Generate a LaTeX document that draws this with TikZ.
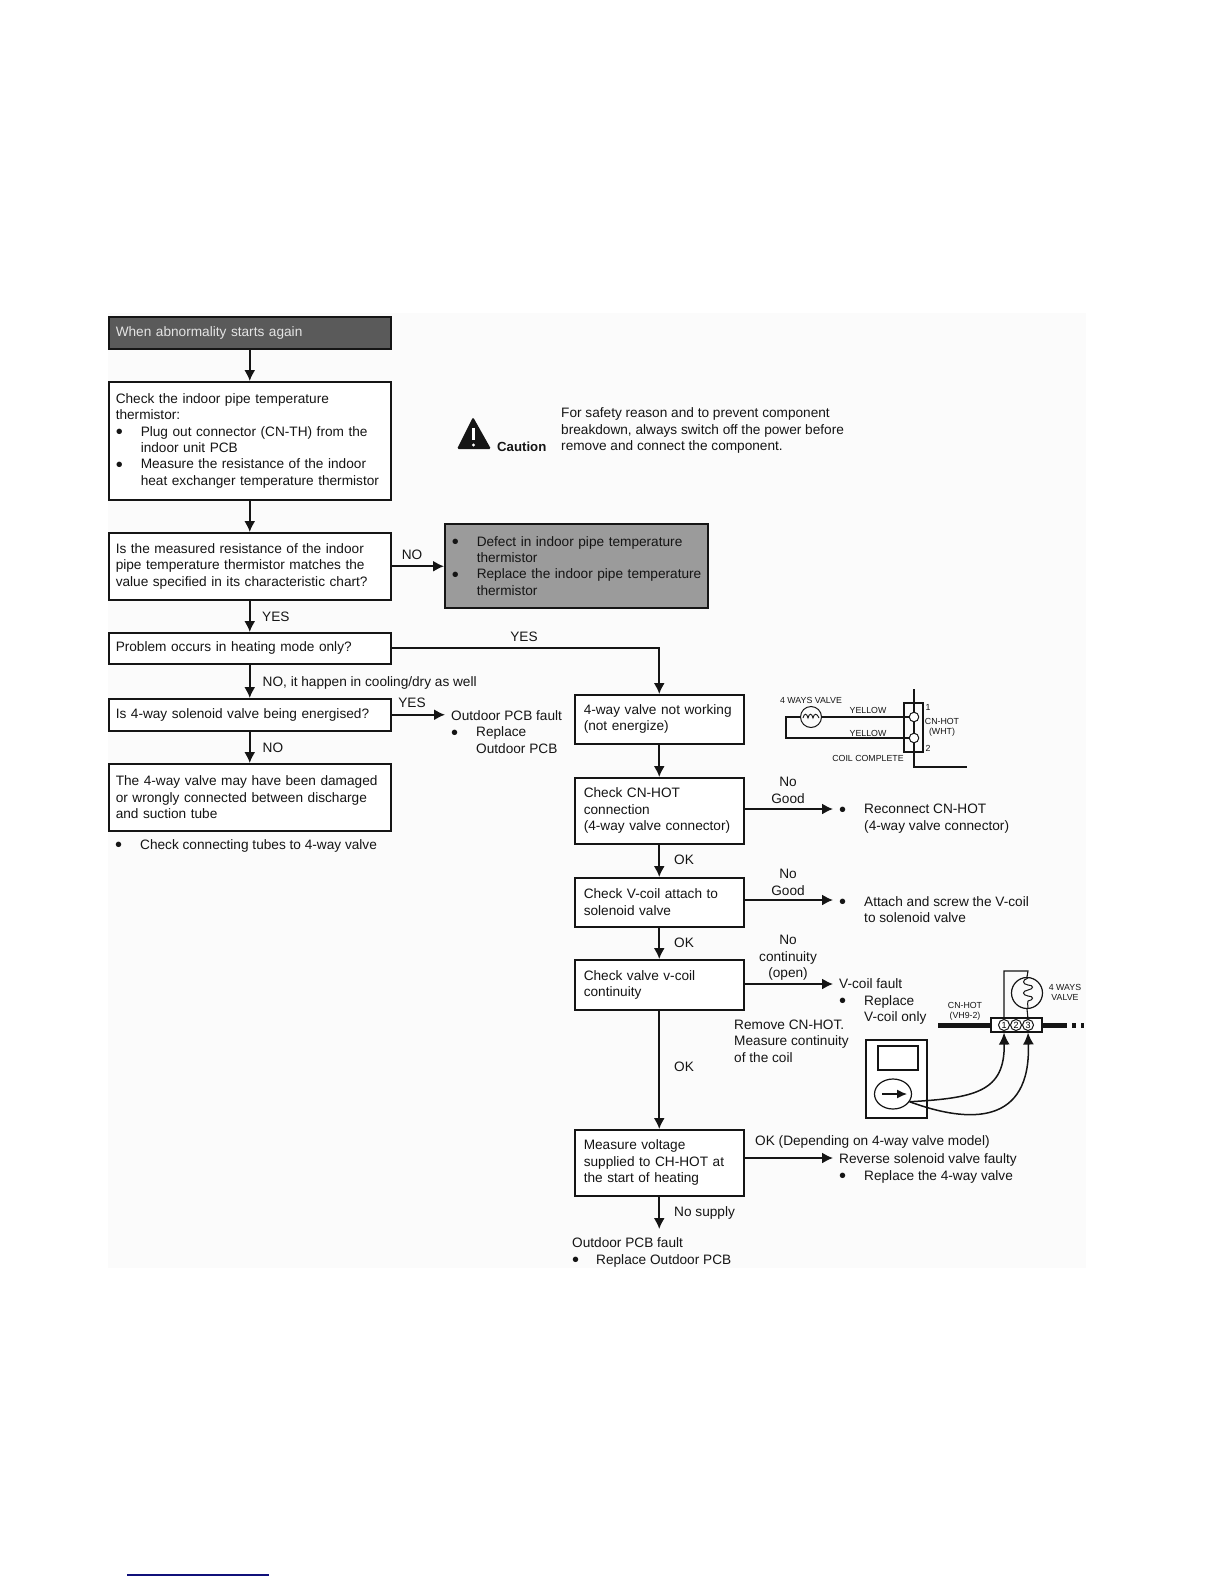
\documentclass[tikz,border=0pt]{standalone}
\usepackage{fontspec}
\usepackage{xcolor}
\setmainfont{Liberation Sans}
\usetikzlibrary{arrows.meta, positioning, calc, shapes.geometric}
\definecolor{Canvas}{HTML}{FBFBFB}
\definecolor{Ink}{HTML}{151515}
\definecolor{HeadFill}{HTML}{5A5A5A}
\definecolor{HeadText}{HTML}{E4E4E4}
\definecolor{FaultFill}{HTML}{9B9B9B}
\definecolor{Rule}{HTML}{10107A}
\newcommand{\bdot}{\smash{\raisebox{-2.5pt}{\fontsize{20}{20}\selectfont\textbullet}}}
\newcommand{\bitem}[1]{\mbox{\makebox[25pt][l]{\bdot}#1}}
\newcommand{\bcont}{\hspace*{25pt}}
\AtBeginDocument{\hyphenpenalty=10000}
\begin{document}
\begin{tikzpicture}[x=1pt,y=-1pt,font=\fontsize{13.65}{16.4}\selectfont,flow/.style={-{Latex[length=11pt,width=11pt]}, line width=1.6pt, draw=Ink},stepbox/.style={draw=Ink, fill=white, line width=1.5pt, anchor=north west, align=left, inner xsep=7pt, inner ysep=0pt, text=Ink},leftbox/.style={stepbox, minimum width=282pt, text width=268pt},rightbox/.style={stepbox, inner xsep=9pt, minimum width=169pt, text width=151pt},labeltext/.style={anchor=west, inner sep=0pt, align=left, text=Ink, yshift=-1.5pt},midtext/.style={inner sep=0pt, align=center, text=Ink, yshift=-1.5pt},tinytext/.style={inner sep=0pt, align=center, text=Ink, font=\fontsize{8.8}{10}\selectfont},wire/.style={draw=Ink, line width=1.1pt},ringmark/.style={circle, draw=Ink, fill=white, line width=1pt, inner sep=0pt}]
\useasboundingbox (0,0) rectangle (1224,1584);
\fill[white] (0,0) rectangle (1224,1584);
\fill[Canvas] (108,313) rectangle (1086,1268);
\node[leftbox, fill=HeadFill, text=HeadText, minimum height=32pt] (start) at (108,316) {When abnormality starts again};
\node[leftbox, minimum height=118pt] (thermistor) at (108,381) {Check the indoor pipe temperature\\thermistor:\\\bitem{Plug out connector (CN-TH) from the}\\\bcont indoor unit PCB\\\bitem{Measure the resistance of the indoor}\\\bcont heat exchanger temperature thermistor};
\node[leftbox, minimum height=67pt] (chart) at (108,532) {Is the measured resistance of the indoor\\pipe temperature thermistor matches the\\value specified in its characteristic chart?};
\node[leftbox, minimum height=31pt] (heating) at (108,632) {Problem occurs in heating mode only?};
\node[leftbox, minimum height=32pt] (solenoid) at (108,698) {Is 4-way solenoid valve being energised?};
\node[leftbox, minimum height=67pt] (damaged) at (108,763) {The 4-way valve may have been damaged\\or wrongly connected between discharge\\and suction tube};
\node[stepbox, fill=FaultFill, minimum width=263pt, text width=249pt, minimum height=84pt] (defect) at (444,523) {\bitem{Defect in indoor pipe temperature}\\\bcont thermistor\\\bitem{Replace the indoor pipe temperature}\\\bcont thermistor};
\node[rightbox, minimum height=49pt] (fourway) at (574,694) {4-way valve not working\\(not energize)};
\node[rightbox, minimum height=66pt] (cnhot) at (574,777) {Check CN-HOT\\connection\\(4-way valve connector)};
\node[rightbox, minimum height=49pt] (vcoil) at (574,877) {Check V-coil attach to\\solenoid valve};
\node[rightbox, minimum height=50pt] (continuity) at (574,959) {Check valve v-coil\\continuity};
\node[rightbox, minimum height=66pt] (measure) at (574,1129) {Measure voltage\\supplied to CH-HOT at\\the start of heating};
\node[labeltext] (tubes) at (115,844) {\bitem{Check connecting tubes to 4-way valve}};
\node[labeltext] (safety) at (561,429) {For safety reason and to prevent component\\breakdown, always switch off the power before\\remove and connect the component.};
\node[labeltext, font=\fontsize{13.2}{16}\selectfont\bfseries] (caution) at (497,445) {Caution};
\fill[Ink, rounded corners=1.5pt] (473,417) -- (491,449) -- (457,449) -- cycle;
\draw[white, line width=2.6pt] (473.5,428) -- (473.5,440);
\fill[white] (473.5,445) circle[radius=1.6pt];
\draw[flow] (start.south) -- (thermistor.north);
\draw[flow] (thermistor.south) -- (chart.north);
\draw[flow] (chart.south) -- (heating.north);
\draw[flow] (heating.south) -- (solenoid.north);
\draw[flow] (solenoid.south) -- (damaged.north);
\draw[flow] (chart.east) -- (chart.east -| defect.west);
\draw[flow] (heating.east) -| (fourway.north);
\draw[flow] (fourway.south) -- (cnhot.north);
\draw[flow] (cnhot.south) -- (vcoil.north);
\draw[flow] (vcoil.south) -- (continuity.north);
\draw[flow] (continuity.south) -- (measure.north);
\coordinate (pcbtip) at (445,714);
\coordinate (reconnecttip) at (833,809);
\coordinate (attachtip) at (833,900);
\coordinate (faulttip) at (833,984);
\coordinate (reversetip) at (833,1158);
\coordinate (supplytip) at (658.5,1229);
\draw[flow] (solenoid.east) -- (solenoid.east -| pcbtip);
\draw[flow] (cnhot.east |- reconnecttip) -- (reconnecttip);
\draw[flow] (vcoil.east |- attachtip) -- (attachtip);
\draw[flow] (continuity.east |- faulttip) -- (faulttip);
\draw[flow] (measure.east |- reversetip) -- (reversetip);
\draw[flow] (measure.south) -- (measure.south |- supplytip);
\node[labeltext] (yesa) at (262,615) {YES};
\node[midtext] (noa) at (412,553) {NO};
\node[midtext] (yesb) at (524,635) {YES};
\node[labeltext] (cooling) at (262.5,681) {NO, it happen in cooling/dry as well};
\node[midtext] (yesc) at (412,701) {YES};
\node[labeltext] (nob) at (262.5,746) {NO};
\node[labeltext] (pcbfault) at (451,730.5) {Outdoor PCB fault\\\bitem{Replace}\\\bcont Outdoor PCB};
\node[midtext] (nogooda) at (788,789) {No\\Good};
\node[labeltext] (reconnect) at (839,817) {\bitem{Reconnect CN-HOT}\\\bcont (4-way valve connector)};
\node[labeltext] (oka) at (674,858) {OK};
\node[midtext] (nogoodb) at (788,881) {No\\Good};
\node[labeltext] (attach) at (839,908) {\bitem{Attach and screw the V-coil}\\\bcont to solenoid valve};
\node[labeltext] (okb) at (674,941) {OK};
\node[midtext] (nocont) at (788,956.5) {No\\continuity\\(open)};
\node[labeltext] (coilfault) at (839,1000) {V-coil fault\\\bitem{Replace}\\\bcont V-coil only};
\node[labeltext] (remove) at (734,1039.5) {Remove CN-HOT.\\Measure continuity\\of the coil};
\node[labeltext] (okc) at (674,1065) {OK};
\node[labeltext] (depending) at (755,1140) {OK (Depending on 4-way valve model)};
\node[labeltext] (reverse) at (839,1167) {Reverse solenoid valve faulty\\\bitem{Replace the 4-way valve}};
\node[labeltext] (nosupply) at (674,1211) {No supply};
\node[labeltext] (pcbfaultb) at (572,1251) {Outdoor PCB fault\\\makebox[24pt][l]{\bdot}Replace Outdoor PCB};
\node[draw=Ink, line width=1.1pt, minimum width=19pt, minimum height=49pt, inner sep=0pt] (hotplug) at (913.5,727.5) {};
\node[ringmark, minimum size=21pt, fill=none] (valvea) at (811,717) {};
\node[ringmark, minimum size=9.5pt] (pinone) at (914,717) {};
\node[ringmark, minimum size=9.5pt] (pintwo) at (914,738) {};
\coordinate (wirecorner) at (786,738);
\coordinate (leadtop) at (914,689);
\coordinate (leadbend) at (914,767);
\coordinate (leadend) at (967,767);
\draw[wire] (valvea.east) -- (pinone.west);
\draw[wire] (valvea.west) -- (wirecorner |- valvea) -- (wirecorner) -- (pintwo.west);
\draw[wire] (leadtop) -- (pinone.north);
\draw[wire] (pinone.south) -- (pintwo.north);
\draw[wire] (pintwo.south) -- (leadbend) -- (leadend);
\draw[draw=Ink, line width=0.9pt] (803,718) .. controls (804,713) and (807,713) .. (808,718) .. controls (809,713) and (812,713) .. (813,718) .. controls (814,713) and (817,713) .. (819,718);
\node[tinytext] (waysa) at (811,700) {4 WAYS VALVE};
\node[tinytext] (yellowa) at (868,710) {YELLOW};
\node[tinytext] (yellowb) at (868,733) {YELLOW};
\node[tinytext] (pinlabela) at (928,707) {1};
\node[tinytext] (pinlabelb) at (928,748) {2};
\node[tinytext] (hotlabel) at (942,727.5) {CN-HOT\\(WHT)};
\node[tinytext] (coillabel) at (868,758) {COIL COMPLETE};
\node[draw=Ink, fill=white, line width=1.1pt, minimum width=51pt, minimum height=14pt, inner sep=0pt] (rail) at (1016.5,1025) {};
\node[ringmark, minimum size=11pt, font=\fontsize{9}{9}\selectfont] (terma) at (1004,1025) {1};
\node[ringmark, minimum size=11pt, font=\fontsize{9}{9}\selectfont] (termb) at (1016,1025) {2};
\node[ringmark, minimum size=11pt, font=\fontsize{9}{9}\selectfont] (termc) at (1028,1025) {3};
\node[ringmark, minimum size=31pt, fill=none, line width=1.2pt] (valveb) at (1027,993) {};
\coordinate (leada) at (1004,971);
\coordinate (leadb) at (1028,971);
\coordinate (barstart) at (938,1025);
\coordinate (barend) at (1067,1025);
\draw[line width=5pt, draw=Ink] (barstart) -- (rail.west);
\draw[line width=5pt, draw=Ink] (rail.east) -- (barend);
\draw[line width=5pt, draw=Ink] (1072,1025) -- (1076,1025);
\draw[line width=5pt, draw=Ink] (1081,1025) -- (1084,1025);
\draw[wire] (terma.north) -- (leada) -- (leadb) -- (valveb.north);
\draw[wire] (valveb.south) -- (termc.north);
\draw[draw=Ink, line width=1pt] (1028,978) .. controls (1022,980) and (1022,984) .. (1028,985) .. controls (1034,985) and (1034,989) .. (1028,990) .. controls (1022,991) and (1022,995) .. (1028,996) .. controls (1034,996) and (1034,1000) .. (1028,1001) .. controls (1027,1002) and (1028,1005) .. (1028,1008);
\node[tinytext] (cnhotlabel) at (965,1011) {CN-HOT\\(VH9-2)};
\node[tinytext] (waysb) at (1065,992.5) {4 WAYS\\VALVE};
\node[draw=Ink, fill=white, line width=1.2pt, minimum width=61pt, minimum height=78pt, inner sep=0pt] (meter) at (896.5,1079) {};
\node[draw=Ink, fill=white, line width=1.2pt, minimum width=40pt, minimum height=24pt, inner sep=0pt] (screen) at (898,1058) {};
\node[ellipse, draw=Ink, fill=white, line width=1.2pt, minimum width=37pt, minimum height=30pt, inner sep=0pt] (dial) at (893,1094) {};
\coordinate (dialin) at (882,1094);
\coordinate (dialout) at (907,1094);
\draw[-{Latex[length=10pt,width=9pt]}, line width=1.3pt, draw=Ink] (dialin) -- (dialout);
\draw[-{Latex[length=12pt,width=11pt]}, line width=1.5pt, draw=Ink] (dial.-25) .. controls (975,1098) and (1005,1092) .. (rail.south -| terma);
\draw[-{Latex[length=12pt,width=11pt]}, line width=1.5pt, draw=Ink] (dial.-25) .. controls (970,1124) and (1031,1125) .. (rail.south -| termc);
\draw[draw=Rule, line width=1.2pt] (127,1575) -- (269,1575);
\end{tikzpicture}
\end{document}
